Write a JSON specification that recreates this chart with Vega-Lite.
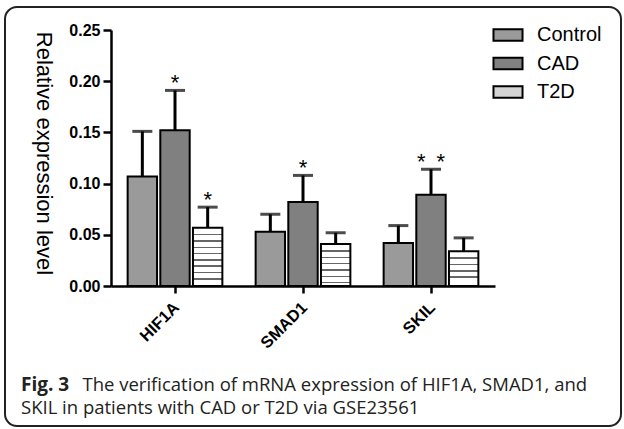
{
  "$schema": "https://vega.github.io/schema/vega-lite/v6.json",
  "width": 616,
  "height": 419,
  "autosize": "none",
  "padding": {"left": 5, "top": 7, "right": 3, "bottom": 3},
  "background": "white",
  "config": {
    "view": {"stroke": "#222", "strokeWidth": 2, "cornerRadius": 12, "fill": "white"},
    "font": "Liberation Sans"
  },
  "title": {
    "text": "Fig. 3",
    "subtitle": "SKIL in patients with CAD or T2D via GSE23561",
    "orient": "bottom",
    "anchor": "start",
    "frame": "group",
    "font": "Open Sans",
    "fontSize": 19,
    "fontWeight": "bold",
    "color": "#222",
    "subtitleFont": "Open Sans",
    "subtitleFontSize": 18.5,
    "subtitleColor": "#222",
    "subtitlePadding": 4,
    "offset": -50,
    "dx": 16
  },
  "data": {
    "values": [
      {"gene": "HIF1A", "group": "Control", "value": 0.107, "err": 0.151, "sig": ""},
      {"gene": "HIF1A", "group": "CAD", "value": 0.152, "err": 0.191, "sig": "*"},
      {"gene": "HIF1A", "group": "T2D", "value": 0.057, "err": 0.077, "sig": "*"},
      {"gene": "SMAD1", "group": "Control", "value": 0.053, "err": 0.070, "sig": ""},
      {"gene": "SMAD1", "group": "CAD", "value": 0.082, "err": 0.108, "sig": "*"},
      {"gene": "SMAD1", "group": "T2D", "value": 0.041, "err": 0.052, "sig": ""},
      {"gene": "SKIL", "group": "Control", "value": 0.042, "err": 0.059, "sig": ""},
      {"gene": "SKIL", "group": "CAD", "value": 0.089, "err": 0.114, "sig": "*\u2002*"},
      {"gene": "SKIL", "group": "T2D", "value": 0.034, "err": 0.047, "sig": ""}
    ]
  },
  "encoding": {
    "x": {
      "field": "gene",
      "type": "nominal",
      "sort": ["HIF1A", "SMAD1", "SKIL"],
      "scale": {"range": [106, 490], "paddingInner": 0.26, "paddingOuter": 0.13},
      "axis": {
        "title": "The verification of mRNA expression of HIF1A, SMAD1, and",
        "titleFont": "Open Sans",
        "titleFontSize": 18.5,
        "titleFontWeight": "normal",
        "titleColor": "#222",
        "titleX": 77,
        "titleY": 104,
        "titleAlign": "left",
        "titleBaseline": "alphabetic",
        "titleAnchor": null,
        "offset": -140,
        "labelAngle": -45,
        "labelFont": "Liberation Sans",
        "labelFontSize": 16.5,
        "labelFontWeight": "bold",
        "labelColor": "black",
        "labelPadding": 6,
        "labelOffset": -4,
        "tickSize": 7,
        "tickWidth": 2.5,
        "tickColor": "black",
        "domainColor": "black",
        "domainWidth": 2.5
      }
    },
    "xOffset": {
      "field": "group",
      "type": "nominal",
      "sort": ["Control", "CAD", "T2D"],
      "scale": {"paddingInner": 0.1, "paddingOuter": 0}
    },
    "y": {
      "field": "value",
      "type": "quantitative",
      "scale": {"domain": [0, 0.25], "range": [279, 23], "nice": false, "zero": true},
      "axis": {
        "title": "Relative expression level",
        "titleFont": "Liberation Sans",
        "titleFontSize": 22,
        "titleFontWeight": "normal",
        "titleColor": "black",
        "titleAngle": 90,
        "titleX": -68,
        "titleY": 146,
        "titleAlign": "center",
        "titleBaseline": "middle",
        "offset": -106,
        "values": [0, 0.05, 0.1, 0.15, 0.2, 0.25],
        "format": ".2f",
        "grid": false,
        "labelFont": "Liberation Sans",
        "labelFontSize": 16,
        "labelFontWeight": "bold",
        "labelColor": "black",
        "labelPadding": 3,
        "tickSize": 8,
        "tickWidth": 2.5,
        "tickColor": "black",
        "domainColor": "black",
        "domainWidth": 2.5
      }
    }
  },
  "layer": [
    {
      "mark": {"type": "rule", "strokeWidth": 3, "color": "black"},
      "encoding": {"y2": {"field": "err"}}
    },
    {
      "mark": {"type": "tick", "size": 20, "thickness": 3, "color": "black", "orient": "horizontal"},
      "encoding": {"y": {"field": "err", "type": "quantitative"}}
    },
    {
      "transform": [{"filter": "datum.group !== 'T2D'"}],
      "mark": {"type": "bar", "stroke": "black", "strokeWidth": 2},
      "encoding": {
        "color": {
          "field": "group",
          "type": "nominal",
          "sort": ["Control", "CAD", "T2D"],
          "scale": {"domain": ["Control", "CAD", "T2D"], "range": ["#9a9a9a", "#808080", "#d4d4d4"]},
          "legend": {
            "title": null,
            "orient": "none",
            "legendX": 491,
            "legendY": 16,
            "padding": 0,
            "symbolType": "M-1.32,-0.52H1.32V0.52H-1.32Z",
            "symbolSize": 484,
            "symbolStrokeColor": "black",
            "symbolStrokeWidth": 2,
            "labelFont": "Liberation Sans",
            "labelFontSize": 20,
            "labelColor": "black",
            "labelOffset": 17,
            "rowPadding": 6.5
          }
        }
      }
    },
    {
      "transform": [{"filter": "datum.group === 'T2D' && datum.gene === 'HIF1A'"}],
      "mark": {
        "type": "bar", "stroke": "black", "strokeWidth": 2,
        "fill": {"gradient": "linear", "x1": 0, "y1": 0, "x2": 0, "y2": 1, "stops": [
          {"offset": 0, "color": "white"}, {"offset": 0.108, "color": "white"},
          {"offset": 0.108, "color": "#666"}, {"offset": 0.134, "color": "#666"}, {"offset": 0.134, "color": "white"}, {"offset": 0.216, "color": "white"},
          {"offset": 0.216, "color": "#666"}, {"offset": 0.241, "color": "#666"}, {"offset": 0.241, "color": "white"}, {"offset": 0.324, "color": "white"},
          {"offset": 0.324, "color": "#666"}, {"offset": 0.349, "color": "#666"}, {"offset": 0.349, "color": "white"}, {"offset": 0.432, "color": "white"},
          {"offset": 0.432, "color": "#666"}, {"offset": 0.457, "color": "#666"}, {"offset": 0.457, "color": "white"}, {"offset": 0.539, "color": "white"},
          {"offset": 0.539, "color": "#666"}, {"offset": 0.565, "color": "#666"}, {"offset": 0.565, "color": "white"}, {"offset": 0.647, "color": "white"},
          {"offset": 0.647, "color": "#666"}, {"offset": 0.673, "color": "#666"}, {"offset": 0.673, "color": "white"}, {"offset": 0.755, "color": "white"},
          {"offset": 0.755, "color": "#666"}, {"offset": 0.781, "color": "#666"}, {"offset": 0.781, "color": "white"}, {"offset": 0.863, "color": "white"},
          {"offset": 0.863, "color": "#666"}, {"offset": 0.889, "color": "#666"}, {"offset": 0.889, "color": "white"}, {"offset": 1, "color": "white"}
        ]}
      },
      "encoding": {}
    },
    {
      "transform": [{"filter": "datum.group === 'T2D' && datum.gene === 'SMAD1'"}],
      "mark": {
        "type": "bar", "stroke": "black", "strokeWidth": 2,
        "fill": {"gradient": "linear", "x1": 0, "y1": 0, "x2": 0, "y2": 1, "stops": [
          {"offset": 0, "color": "white"}, {"offset": 0.150, "color": "white"},
          {"offset": 0.150, "color": "#666"}, {"offset": 0.186, "color": "#666"}, {"offset": 0.186, "color": "white"}, {"offset": 0.300, "color": "white"},
          {"offset": 0.300, "color": "#666"}, {"offset": 0.336, "color": "#666"}, {"offset": 0.336, "color": "white"}, {"offset": 0.450, "color": "white"},
          {"offset": 0.450, "color": "#666"}, {"offset": 0.486, "color": "#666"}, {"offset": 0.486, "color": "white"}, {"offset": 0.600, "color": "white"},
          {"offset": 0.600, "color": "#666"}, {"offset": 0.636, "color": "#666"}, {"offset": 0.636, "color": "white"}, {"offset": 0.750, "color": "white"},
          {"offset": 0.750, "color": "#666"}, {"offset": 0.786, "color": "#666"}, {"offset": 0.786, "color": "white"}, {"offset": 0.900, "color": "white"},
          {"offset": 0.900, "color": "#666"}, {"offset": 0.936, "color": "#666"}, {"offset": 0.936, "color": "white"}, {"offset": 1, "color": "white"}
        ]}
      },
      "encoding": {}
    },
    {
      "transform": [{"filter": "datum.group === 'T2D' && datum.gene === 'SKIL'"}],
      "mark": {
        "type": "bar", "stroke": "black", "strokeWidth": 2,
        "fill": {"gradient": "linear", "x1": 0, "y1": 0, "x2": 0, "y2": 1, "stops": [
          {"offset": 0, "color": "white"}, {"offset": 0.181, "color": "white"},
          {"offset": 0.181, "color": "#666"}, {"offset": 0.224, "color": "#666"}, {"offset": 0.224, "color": "white"}, {"offset": 0.362, "color": "white"},
          {"offset": 0.362, "color": "#666"}, {"offset": 0.405, "color": "#666"}, {"offset": 0.405, "color": "white"}, {"offset": 0.543, "color": "white"},
          {"offset": 0.543, "color": "#666"}, {"offset": 0.586, "color": "#666"}, {"offset": 0.586, "color": "white"}, {"offset": 0.724, "color": "white"},
          {"offset": 0.724, "color": "#666"}, {"offset": 0.767, "color": "#666"}, {"offset": 0.767, "color": "white"}, {"offset": 1, "color": "white"}
        ]}
      },
      "encoding": {}
    },
    {
      "mark": {"type": "text", "fontSize": 22, "baseline": "alphabetic", "color": "black", "font": "Liberation Sans"},
      "encoding": {
        "y": {"field": "err", "type": "quantitative"},
        "text": {"field": "sig"}
      }
    }
  ]
}
